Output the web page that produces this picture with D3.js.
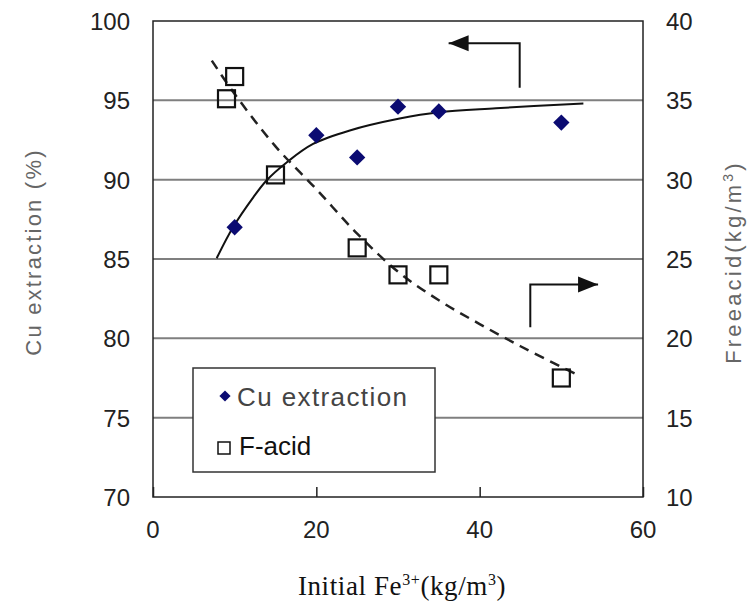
<!DOCTYPE html>
<html>
<head>
<meta charset="utf-8">
<script src="https://cdn.jsdelivr.net/npm/d3@7"></script>
<style>
  body { margin: 0; background: #fff; }
  svg { display: block; }
</style>
</head>
<body>
<div id="vis"></div>
<script>
// measured values
const feCu = [10, 20, 25, 30, 35, 50]
const cuExtraction = [87.0, 92.8, 91.4, 94.6, 94.3, 93.6]

const feAcid = [9, 10, 15, 25, 30, 35, 50]
const freeAcid = [35.1, 36.5, 30.3, 25.7, 24.0, 24.0, 17.5]

// trend lines
const cuTrendX = [7.8, 9.8, 12.3, 13.9, 16.4, 19.6, 24.1, 30.2, 35, 42, 52.7]
const cuTrendY = [85.05, 87.0, 88.9, 89.95, 91.1, 92.25, 93.1, 93.85, 94.25, 94.5, 94.8]
const acidTrendX = [7.2, 10, 15, 20, 25, 30, 35, 40, 45, 50, 52]
const acidTrendY = [37.5, 35.4, 32.1, 29.4, 26.6, 24.2, 22.4, 20.9, 19.5, 18.2, 17.7]

const xTicks = [0, 20, 40, 60]
const leftTicks = [70, 75, 80, 85, 90, 95, 100]
const rightTicks = [10, 15, 20, 25, 30, 35, 40]
const gridValues = [75, 80, 85, 90, 95]

const width = 756
const height = 610
const margin = {top: 21, right: 113, bottom: 113, left: 153}
const sans = "Liberation Sans, Arial, sans-serif"

const svg = d3.select("#vis").append("svg")
    .attr("width", width)
    .attr("height", height)

const x = d3.scaleLinear().domain([0, 60]).range([margin.left, width - margin.right])
const yL = d3.scaleLinear().domain([70, 100]).range([height - margin.bottom, margin.top])
const yR = d3.scaleLinear().domain([10, 40]).range([height - margin.bottom, margin.top])

//gridlines
svg.append("g")
    .selectAll("line")
    .data(gridValues)
    .enter()
    .append("line")
    .attr("x1", x(0))
    .attr("x2", x(60))
    .attr("y1", d => yL(d))
    .attr("y2", d => yL(d))
    .attr("stroke", "#7f7f7f")
    .attr("stroke-width", 2)

//plot frame
svg.append("rect")
    .attr("x", x(0))
    .attr("y", yL(100))
    .attr("width", x(60) - x(0))
    .attr("height", yL(70) - yL(100))
    .attr("fill", "none")
    .attr("stroke", "#222")
    .attr("stroke-width", 1.5)

//x axis, ticks pointing inward
const xAxis = svg.append("g")
    .attr("transform", "translate(0," + yL(70) + ")")
    .call(d3.axisTop(x).tickValues(xTicks).tickSize(10).tickFormat(""))
xAxis.select(".domain").remove()
xAxis.selectAll("line").attr("stroke", "#222").attr("stroke-width", 1.5)

svg.append("g")
    .selectAll("text")
    .data(xTicks)
    .enter()
    .append("text")
    .attr("x", d => x(d))
    .attr("y", yL(70) + 41)
    .attr("text-anchor", "middle")
    .attr("font-family", sans)
    .attr("font-size", 24)
    .attr("fill", "#222")
    .text(d => d)

//left tick labels
svg.append("g")
    .selectAll("text")
    .data(leftTicks)
    .enter()
    .append("text")
    .attr("x", 130)
    .attr("y", d => yL(d) + 9)
    .attr("text-anchor", "end")
    .attr("font-family", sans)
    .attr("font-size", 24)
    .attr("fill", "#222")
    .text(d => d)

//right tick labels
svg.append("g")
    .selectAll("text")
    .data(rightTicks)
    .enter()
    .append("text")
    .attr("x", 666)
    .attr("y", d => yR(d) + 9)
    .attr("text-anchor", "start")
    .attr("font-family", sans)
    .attr("font-size", 24)
    .attr("fill", "#222")
    .text(d => d)

//axis titles
svg.append("text")
    .attr("transform", "translate(41,252)rotate(-90)")
    .attr("text-anchor", "middle")
    .attr("font-family", sans)
    .attr("font-size", 22)
    .attr("letter-spacing", 2.2)
    .attr("fill", "#666")
    .text("Cu extraction (%)")

const rightTitle = svg.append("text")
    .attr("transform", "translate(741,262)rotate(-90)")
    .attr("text-anchor", "middle")
    .attr("font-family", sans)
    .attr("font-size", 22)
    .attr("letter-spacing", 3.2)
    .attr("fill", "#666")
rightTitle.append("tspan").text("Freeacid(kg/m")
rightTitle.append("tspan").attr("font-size", 14).attr("dy", -8).text("3")
rightTitle.append("tspan").attr("dy", 8).text(")")

const xTitle = svg.append("text")
    .attr("x", 402)
    .attr("y", 595)
    .attr("text-anchor", "middle")
    .attr("font-family", "Liberation Serif, Times New Roman, serif")
    .attr("font-size", 27)
    .attr("letter-spacing", 0.6)
    .attr("fill", "#111")
xTitle.append("tspan").text("Initial Fe")
xTitle.append("tspan").attr("font-size", 16).attr("dy", -10).text("3+")
xTitle.append("tspan").attr("dy", 10).text("(kg/m")
xTitle.append("tspan").attr("font-size", 16).attr("dy", -10).text("3")
xTitle.append("tspan").attr("dy", 10).text(")")

//trend lines
const cuLine = d3.line()
    .x(d => x(d[0]))
    .y(d => yL(d[1]))
    .curve(d3.curveCatmullRom)

svg.append("path")
    .datum(d3.zip(cuTrendX, cuTrendY))
    .attr("d", cuLine)
    .attr("fill", "none")
    .attr("stroke", "#111")
    .attr("stroke-width", 2)

const acidLine = d3.line()
    .x(d => x(d[0]))
    .y(d => yR(d[1]))
    .curve(d3.curveCatmullRom)

svg.append("path")
    .datum(d3.zip(acidTrendX, acidTrendY))
    .attr("d", acidLine)
    .attr("fill", "none")
    .attr("stroke", "#222")
    .attr("stroke-width", 2.5)
    .attr("stroke-dasharray", "10,7")

//markers
const diamond = d3.symbol().type(d3.symbolDiamond2).size(170)

svg.append("g")
    .selectAll("path")
    .data(d3.zip(feCu, cuExtraction))
    .enter()
    .append("path")
    .attr("transform", d => "translate(" + x(d[0]) + "," + yL(d[1]) + ")")
    .attr("d", diamond)
    .attr("fill", "#0b0b72")

svg.append("g")
    .selectAll("rect")
    .data(d3.zip(feAcid, freeAcid))
    .enter()
    .append("rect")
    .attr("x", d => x(d[0]) - 8.5)
    .attr("y", d => yR(d[1]) - 8.5)
    .attr("width", 17)
    .attr("height", 17)
    .attr("fill", "none")
    .attr("stroke", "#111")
    .attr("stroke-width", 2.2)

//arrows pointing to the axis each series belongs to
function arrow(points, tipDir) {
    const line = d3.line()
    svg.append("path")
        .attr("d", line(points))
        .attr("fill", "none")
        .attr("stroke", "#111")
        .attr("stroke-width", 2)
    const tip = points[points.length - 1]
    const l = 20, h = 8
    const tri = tipDir === "left"
        ? [[tip[0], tip[1]], [tip[0] + l, tip[1] - h], [tip[0] + l, tip[1] + h]]
        : [[tip[0], tip[1]], [tip[0] - l, tip[1] - h], [tip[0] - l, tip[1] + h]]
    svg.append("path")
        .attr("d", line(tri) + "Z")
        .attr("fill", "#111")
}

arrow([[x(44.9), yL(95.8)], [x(44.9), yL(98.6)], [x(36.2), yL(98.6)]], "left")
arrow([[x(46.2), yR(20.7)], [x(46.2), yR(23.4)], [x(54.5), yR(23.4)]], "right")

//legend
const legend = svg.append("g").attr("transform", "translate(193,368)")
legend.append("rect")
    .attr("width", 242)
    .attr("height", 104)
    .attr("fill", "#fff")
    .attr("stroke", "#333")
    .attr("stroke-width", 1.5)
legend.append("path")
    .attr("transform", "translate(32,28)")
    .attr("d", d3.symbol().type(d3.symbolDiamond2).size(80))
    .attr("fill", "#0b0b72")
legend.append("text")
    .attr("x", 44)
    .attr("y", 38)
    .attr("font-family", sans)
    .attr("font-size", 26)
    .attr("letter-spacing", 1.4)
    .attr("fill", "#444")
    .text("Cu extraction")
legend.append("rect")
    .attr("x", 25)
    .attr("y", 74)
    .attr("width", 12)
    .attr("height", 12)
    .attr("fill", "none")
    .attr("stroke", "#111")
    .attr("stroke-width", 1.5)
legend.append("text")
    .attr("x", 46)
    .attr("y", 87)
    .attr("font-family", sans)
    .attr("font-size", 26)
    .attr("fill", "#111")
    .text("F-acid")
</script>
</body>
</html>
